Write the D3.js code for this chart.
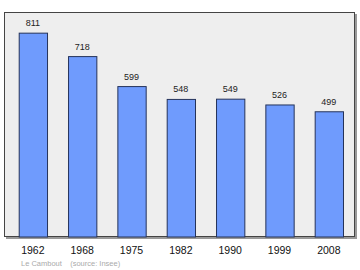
<!DOCTYPE html>
<html><head><meta charset="utf-8">
<script src="https://cdn.jsdelivr.net/npm/d3@7"></script>
<style>html,body{margin:0;padding:0;background:#fff;}svg{display:block;}</style>
</head><body>
<script>
const years = ["1962","1968","1975","1982","1990","1999","2008"];
const population = [811,718,599,548,549,526,499];
const sourceText = "Le Cambout    (source: Insee)";

const W = 360, H = 270;
const svg = d3.select("body").append("svg").attr("width", W).attr("height", H);

const fLeft = 4, fTop = 12, fRight = 355, fBottom = 237;

// shadow
svg.append("rect").attr("x", fLeft+2).attr("y", fTop+2).attr("width", fRight-fLeft).attr("height", fBottom-fTop)
  .attr("fill", "#999");
// frame
svg.append("rect").attr("x", fLeft+0.5).attr("y", fTop+0.5).attr("width", fRight-fLeft-1).attr("height", fBottom-fTop-1)
  .attr("fill", "#eeeeee").attr("stroke", "#444").attr("stroke-width", 1);

const x = d3.scaleBand().domain(years).range([8.2, 353.5]).paddingInner(0.426).paddingOuter(0.213);
const y = d3.scaleLinear().domain([0, 893]).range([fBottom, fTop]);

svg.append("g").selectAll("rect").data(population).join("rect")
  .attr("x", (d,i) => x(years[i]) + 0.5)
  .attr("y", d => y(d) + 0.5)
  .attr("width", x.bandwidth())
  .attr("height", d => fBottom - y(d) - 0.5)
  .attr("fill", "#6f9bfd")
  .attr("stroke", "#25335a")
  .attr("stroke-width", 1);

svg.append("g").selectAll("text").data(population).join("text")
  .attr("x", (d,i) => x(years[i]) + x.bandwidth()/2)
  .attr("y", d => y(d) - 6.5)
  .attr("text-anchor", "middle")
  .attr("font-family", "Liberation Sans, Arial, sans-serif")
  .attr("font-size", 9)
  .attr("fill", "#222")
  .text(d => d);

const xAxis = d3.axisBottom(x).tickSize(0).tickPadding(0);
const ag = svg.append("g").attr("transform", `translate(0,${fBottom})`).call(xAxis);
ag.select(".domain").remove();
ag.selectAll("text").attr("y", 17).attr("dy", 0)
  .attr("font-family", "Liberation Sans, Arial, sans-serif").attr("font-size", 10.5).attr("fill", "#111");

svg.append("text").attr("x", 21).attr("y", 265.5)
  .attr("font-family", "Liberation Sans, Arial, sans-serif").attr("font-size", 7.5)
  .attr("fill", "#aaa").attr("xml:space", "preserve").style("white-space", "pre")
  .text(sourceText);
</script>
</body></html>
